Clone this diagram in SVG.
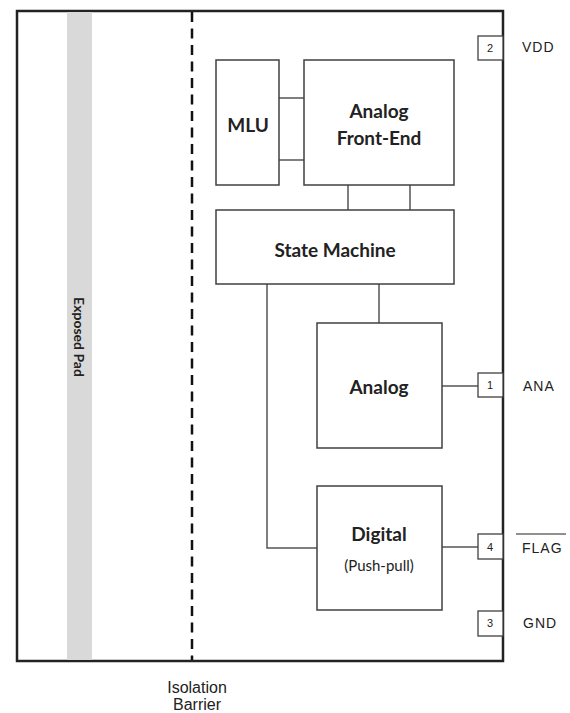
<svg xmlns="http://www.w3.org/2000/svg" width="570" height="713" viewBox="0 0 570 713">
<style>
.blk{fill:#fff;stroke:#404040;stroke-width:1.5}
.pin{fill:#fff;stroke:#404040;stroke-width:1.3}
.wire{fill:none;stroke:#555;stroke-width:1.5}
.t{font-family:Lato,"Open Sans",sans-serif;font-weight:bold;fill:#222;text-anchor:middle;dominant-baseline:central}
.tn{font-family:Lato,"Open Sans",sans-serif;font-weight:normal;fill:#222;text-anchor:middle;dominant-baseline:central}
.pn{font-family:"Liberation Sans",Arial,sans-serif;font-size:11px;fill:#222;text-anchor:middle;dominant-baseline:central}
.lbl{font-family:"Liberation Sans",Arial,sans-serif;font-size:14px;fill:#222;letter-spacing:1px;dominant-baseline:central}
</style>
<rect width="570" height="713" fill="#fff"/>
<g id="package">
<rect x="17" y="11" width="486" height="650" fill="#fff" stroke="#222" stroke-width="2.5"/>
</g>
<g id="exposed-pad">
<rect x="67" y="12" width="25" height="648" fill="#d9d9d9"/>
<text class="t" transform="translate(79,337) rotate(90)" font-size="14">Exposed Pad</text>
</g>
<g id="isolation-barrier">
<line x1="192" y1="12" x2="192" y2="660" stroke="#111" stroke-width="2.5" stroke-dasharray="10,6.5"/>
<text x="197" y="687" font-family="'Liberation Sans',Arial,sans-serif" font-size="16" fill="#222" text-anchor="middle" dominant-baseline="central">Isolation</text>
<text x="197" y="704" font-family="'Liberation Sans',Arial,sans-serif" font-size="16" fill="#222" text-anchor="middle" dominant-baseline="central">Barrier</text>
</g>
<g id="connectors">
<line class="wire" x1="279" y1="98" x2="304" y2="98"/>
<line class="wire" x1="279" y1="160" x2="304" y2="160"/>
<line class="wire" x1="348" y1="185" x2="348" y2="210"/>
<line class="wire" x1="410" y1="185" x2="410" y2="210"/>
<line class="wire" x1="379" y1="284" x2="379" y2="323"/>
<line class="wire" x1="442" y1="386" x2="478" y2="386"/>
<polyline class="wire" points="267,284 267,548 317,548"/>
<line class="wire" x1="442" y1="547" x2="478" y2="547"/>
</g>
<g id="mlu">
<rect class="blk" x="216" y="60" width="63" height="125"/>
<text class="t" x="248" y="124" font-size="19">MLU</text>
</g>
<g id="afe">
<rect class="blk" x="304" y="60" width="150" height="125"/>
<text class="t" x="379" y="110" font-size="19">Analog</text>
<text class="t" x="379" y="137" font-size="19">Front-End</text>
</g>
<g id="state-machine">
<rect class="blk" x="216" y="210" width="238" height="74"/>
<text class="t" x="335" y="249" font-size="19">State Machine</text>
</g>
<g id="analog">
<rect class="blk" x="317" y="323" width="125" height="125"/>
<text class="t" x="379" y="386" font-size="19">Analog</text>
</g>
<g id="digital">
<rect class="blk" x="317" y="486" width="125" height="124"/>
<text class="t" x="379" y="533" font-size="19">Digital</text>
<text class="tn" x="379" y="565" font-size="15">(Push-pull)</text>
</g>
<g id="pin2">
<rect class="pin" x="478" y="36" width="25" height="24"/>
<text class="pn" x="490" y="48">2</text>
<text class="lbl" x="522" y="47">VDD</text>
</g>
<g id="pin1">
<rect class="pin" x="478" y="373" width="25" height="24"/>
<text class="pn" x="490" y="385">1</text>
<text class="lbl" x="523" y="386">ANA</text>
</g>
<g id="pin4">
<rect class="pin" x="478" y="534" width="25" height="25"/>
<text class="pn" x="490" y="547">4</text>
<text class="lbl" x="522" y="548">FLAG</text>
<line x1="516" y1="534" x2="566" y2="534" stroke="#222" stroke-width="1.2"/>
</g>
<g id="pin3">
<rect class="pin" x="478" y="611" width="25" height="25"/>
<text class="pn" x="490" y="623">3</text>
<text class="lbl" x="523" y="623">GND</text>
</g>
</svg>
